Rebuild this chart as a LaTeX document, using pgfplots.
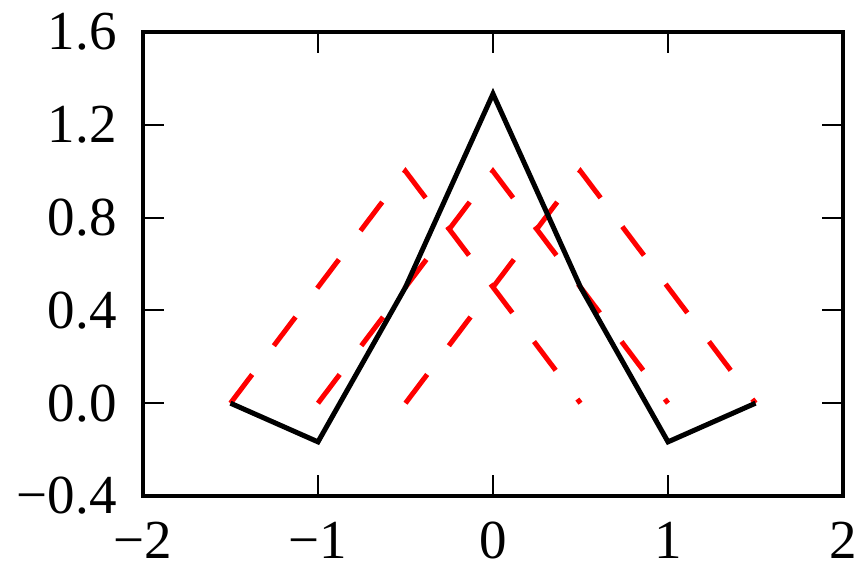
\documentclass[border=0pt]{standalone}
\usepackage{fontspec}
\setmainfont{Liberation Serif}
\usepackage{pgfplots}
\pgfplotsset{compat=1.18}

\begin{document}
\begin{tikzpicture}
\useasboundingbox (-71.5pt,-40.5pt) rectangle (360.5pt,248pt);
\begin{axis}[
    scale only axis,
    width=350pt, height=232pt,
    xmin=-2, xmax=2, ymin=-0.4, ymax=1.6,
    xtick={-2,-1,0,1,2},
    xticklabels={−2,−1,0,1,2},
    ytick={-0.4,0,0.4,0.8,1.2,1.6},
    yticklabels={−0.4,0.0,0.4,0.8,1.2,1.6},
    tick align=inside,
    major tick length=10.5pt,
    tick style={black, line width=1pt},
    axis line style={line width=2pt},
    ticklabel style={font=\fontsize{27.5}{29}\selectfont, inner sep=0pt},
    xticklabel style={anchor=north, yshift=-13pt},
    yticklabel style={anchor=east, xshift=-13pt},
]
\addplot[red, line width=2.5pt, line join=miter, dash pattern=on 18pt off 18pt]
  coordinates {(-1.5,0) (-0.5,1) (0.5,0)};
\addplot[red, line width=2.5pt, line join=miter, dash pattern=on 18pt off 18pt]
  coordinates {(-1,0) (0,1) (1,0)};
\addplot[red, line width=2.5pt, line join=miter, dash pattern=on 18pt off 18pt]
  coordinates {(-0.5,0) (0.5,1) (1.5,0)};
\addplot[black, line width=2.5pt, line join=miter]
  coordinates {(-1.5,0) (-1,-0.1667) (-0.5,0.5) (0,1.3333) (0.5,0.5) (1,-0.1667) (1.5,0)};
\end{axis}
\end{tikzpicture}
\end{document}
